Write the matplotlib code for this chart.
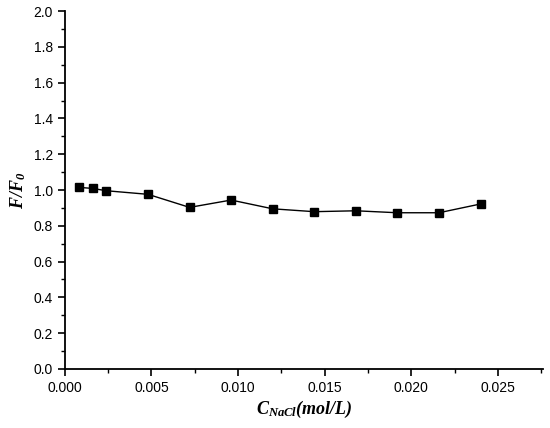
import numpy as np
import matplotlib
matplotlib.use("Agg")
import matplotlib.pyplot as plt
from matplotlib.ticker import MultipleLocator, FormatStrFormatter

# 数据
c_nacl = [0.0008, 0.0016, 0.0024, 0.0048, 0.0072, 0.0096,
          0.0120, 0.0144, 0.0168, 0.0192, 0.0216, 0.0240]
f_ratio = [1.015, 1.009, 0.996, 0.976, 0.903, 0.944,
           0.895, 0.879, 0.884, 0.873, 0.873, 0.922]

plt.rcParams['font.family'] = ['Liberation Sans', 'DejaVu Sans']
plt.rcParams['mathtext.fontset'] = 'custom'
plt.rcParams['mathtext.rm'] = 'Liberation Serif:bold:italic'
plt.rcParams['mathtext.it'] = 'Liberation Serif:bold:italic'
plt.rcParams['mathtext.bf'] = 'Liberation Serif:bold:italic'

fig = plt.figure(figsize=(5.5, 4.28), dpi=100)
ax = fig.add_axes([0.118, 0.138, 0.869, 0.836])

ax.plot(c_nacl, f_ratio, color='black', lw=1.0, marker='s', ms=5.8,
        mfc='black', mec='black')

ax.set_xlim(0, 0.0276)
ax.set_ylim(0, 2.0)
ax.xaxis.set_major_locator(MultipleLocator(0.005))
ax.xaxis.set_minor_locator(MultipleLocator(0.0025))
ax.yaxis.set_major_locator(MultipleLocator(0.2))
ax.yaxis.set_minor_locator(MultipleLocator(0.1))
ax.xaxis.set_major_formatter(FormatStrFormatter('%.3f'))
ax.yaxis.set_major_formatter(FormatStrFormatter('%.1f'))

for s in ['top', 'right']:
    ax.spines[s].set_visible(False)
for s in ['left', 'bottom']:
    ax.spines[s].set_linewidth(1.3)
ax.tick_params(which='major', direction='out', length=5, width=1.2, labelsize=10)
ax.tick_params(which='minor', direction='out', length=3, width=1.0)

ax.set_xlabel(r'$C_{NaCl}(mol/L)$', fontsize=13, labelpad=3)
ax.set_ylabel(r'$F/F_0$', fontsize=13, labelpad=4)

fig.savefig('out.png', dpi=100)
plt.close(fig)
